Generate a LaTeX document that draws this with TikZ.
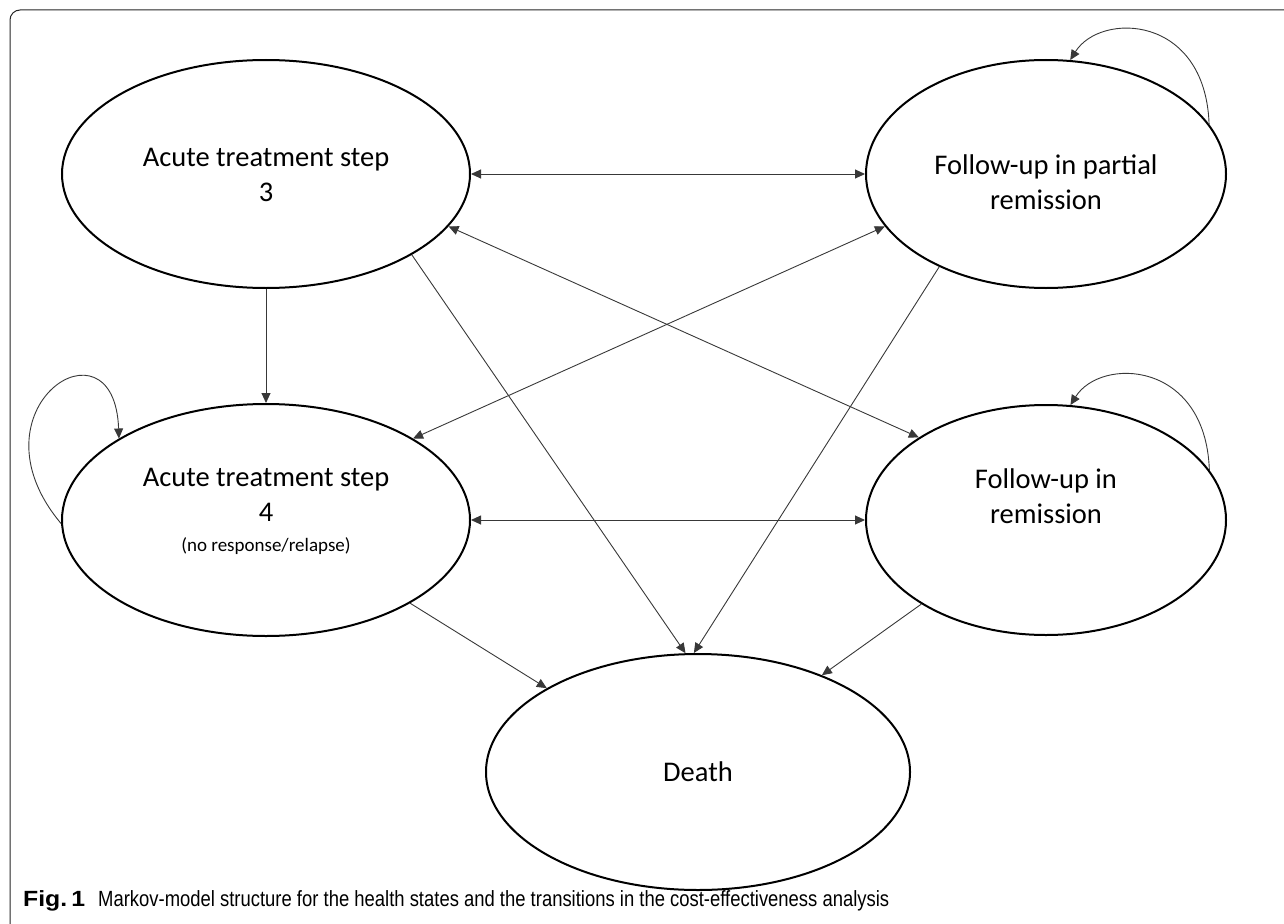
\documentclass[tikz,border=0pt]{standalone}
\usepackage{fontspec}
\setmainfont{Carlito}
\newfontfamily\capfont{Liberation Sans}
\usetikzlibrary{arrows.meta,shapes.geometric,calc}
\begin{document}
\begin{tikzpicture}[x=1pt,y=1pt,
  state/.style={ellipse,draw=black,line width=2pt,inner sep=0pt},
  lbl/.style={align=center,font=\fontsize{28.5}{35}\selectfont,inner sep=0pt},
  conn/.style={draw=black!78,line width=0.9pt},
  tipE/.style={-{Triangle[length=10pt,width=9pt]}},
  tipB/.style={{Triangle[length=10pt,width=9pt]}-{Triangle[length=10pt,width=9pt]}},
  captxt/.style={anchor=base west,inner sep=0pt,font=\capfont\fontsize{22}{26}\selectfont}
]
\useasboundingbox (0,0) rectangle (1284,-923);
\clip (0,0) rectangle (1284,-923);
\draw[black!85,line width=1pt,rounded corners=10pt] (10,-10) rectangle (1310,-935);

% states
\node[state,minimum width=408pt,minimum height=228pt] (A) at (266,-174) {};
\node[state,minimum width=360pt,minimum height=228pt] (B) at (1046,-174) {};
\node[state,minimum width=408pt,minimum height=232pt] (C) at (266,-520) {};
\node[state,minimum width=360pt,minimum height=230pt] (D) at (1046,-520) {};
\node[state,minimum width=424pt,minimum height=236pt] (E) at (698,-772) {};

% labels
\node[lbl] (At) at (266,-175) {Acute treatment step\\3};
\node[lbl] (Bt) at (1046,-182) {Follow-up in partial\\remission};
\node[lbl] (Ct) at (266,-511) {Acute treatment step\\4\\[-5pt]{\fontsize{19}{22}\selectfont (no response/relapse)}};
\node[lbl] (Dt) at (1046,-496) {Follow-up in\\remission};
\node[lbl] (Et) at (698,-772) {Death};

% connectors
\draw[conn,tipB] (A.east) -- (B.west);
\draw[conn,tipB] (C.east) -- (D.west);
\draw[conn,tipE] (A.south) -- (C.north);
\draw[conn,tipE] (A.-29) -- (E.96);
\draw[conn,tipE] (B.221) -- (E.92);
\draw[conn,tipB] (A.-16) -- (D.147);
\draw[conn,tipB] (C.29) -- (B.198);
\draw[conn,tipE] (C.-30) -- (E.151);
\draw[conn,tipE] (D.214) -- (E.38);

% self loops
\draw[conn,tipE] (B.17) to[out=92,in=58,out distance=110pt,in distance=57pt] (B.78);
\draw[conn,tipE] (D.17) to[out=92,in=58,out distance=110pt,in distance=57pt] (D.78);
\draw[conn,tipE] (C.181) to[out=130,in=92,out distance=150pt,in distance=128pt] (C.151);

% caption
\node[captxt] (fig) at (23,-906) {\resizebox{62pt}{\height}{\bfseries Fig.\,1}};
\node[captxt] (cap) at (98,-906)
  {\resizebox{791pt}{\height}{Markov-model structure for the health states and the transitions in the cost-effectiveness analysis}};
\end{tikzpicture}
\end{document}
